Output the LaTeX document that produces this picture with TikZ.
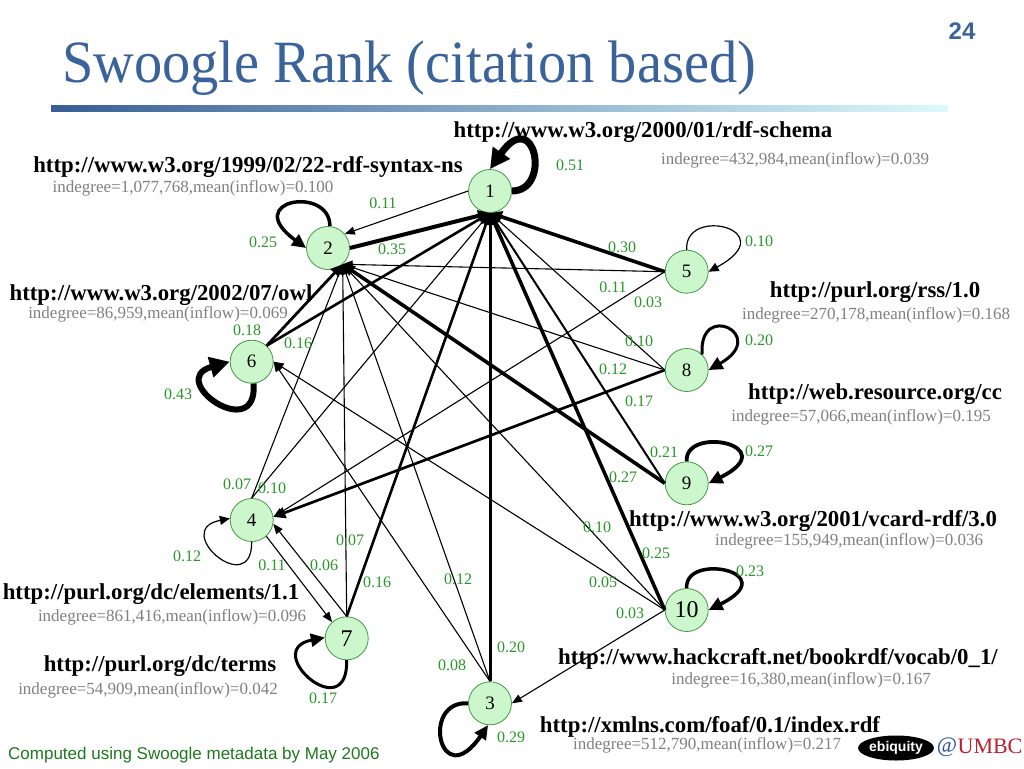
\documentclass[tikz,border=0pt]{standalone}
\usepackage{fontspec}
\setmainfont{Liberation Serif}
\setsansfont{Liberation Sans}
\usetikzlibrary{arrows.meta,shapes.geometric}
\definecolor{titleblue}{RGB}{59,99,155}
\definecolor{lblgreen}{RGB}{40,150,40}
\definecolor{indgray}{RGB}{128,128,128}
\definecolor{nodefill}{RGB}{204,246,204}
\definecolor{nodeline}{RGB}{70,150,70}
\definecolor{footgreen}{RGB}{30,120,30}
\definecolor{barleft}{RGB}{55,95,150}
\definecolor{barright}{RGB}{220,250,252}
\definecolor{umbcred}{RGB}{190,30,45}
\definecolor{atblue}{RGB}{40,80,160}
\tikzset{
  nd/.style={circle, draw=nodeline, fill=nodefill, minimum size=43pt, inner sep=0pt, line width=0.8pt, font=\fontsize{19}{19}\selectfont},
  ndbig/.style={nd, font=\fontsize{24}{24}\selectfont},
  url/.style={font=\bfseries\fontsize{22.8}{24}\selectfont, inner sep=0pt},
  ind/.style={text=indgray, font=\fontsize{17}{18}\selectfont, inner sep=0pt},
  wt/.style={text=lblgreen, font=\fontsize{16}{17}\selectfont, inner sep=0pt},
  edg/.style={-{Triangle[length=10pt,width=8pt]}, line width=1.1pt},
  edgthick/.style={-{Triangle[length=12pt,width=11pt]}},
  loopa/.style={-{Triangle[length=10pt,width=9pt]}, line width=1.2pt},
  loopb/.style={-{Triangle[length=14pt,width=13pt]}},
  loopc/.style={-{Triangle[length=20pt,width=20pt]}}
}
\begin{document}
\begin{tikzpicture}[x=1pt,y=-1pt]
\path[use as bounding box] (0,0) rectangle (1024,768);
\fill[white] (0,0) rectangle (1024,768);

% title
\node[anchor=base west, text=titleblue, inner sep=0pt] (title) at (62,82)
  {\scalebox{0.94}[1]{\fontsize{60}{60}\selectfont Swoogle Rank (citation based)}};
\node[text=titleblue, inner sep=0pt, font=\sffamily\bfseries\fontsize{24}{24}\selectfont] (pageno) at (962,31) {24};
\shade[left color=barleft, right color=barright] (51,105) rectangle (948,111);

% nodes
\node[nd] (n1) at (490,191) {1};
\node[nd] (n2) at (328,248) {2};
\node[nd] (n5) at (686.7,271.7) {5};
\node[nd] (n8) at (686.7,370) {8};
\node[nd] (n6) at (251.7,361.7) {6};
\node[nd] (n4) at (251.7,520) {4};
\node[nd] (n9) at (686.7,483.3) {9};
\node[ndbig] (n10) at (686.7,610) {10};
\node[ndbig] (n7) at (346.7,638.3) {7};
\node[nd] (n3) at (490,703.3) {3};

% edges into 1
\draw[edg, edgthick, line width=4pt] (n2.east) -- (n1.south);
\draw[edg, edgthick, line width=2.6pt] (n6.47) -- (n1.south);
\draw[edg] (n4.north) -- (n1.south);
\draw[edg, edgthick, line width=2.6pt] (n7.north) -- (n1.south);
\draw[edg, edgthick, line width=3pt] (n3.north) -- (n1.south);
\draw[edg, edgthick, line width=3.5pt] (n10.west) -- (n1.south);
\draw[edg, line width=2pt] (n9.west) -- (n1.south);
\draw[edg] (n8.west) -- (n1.south);
\draw[edg, edgthick, line width=3.6pt] (n5.west) -- (n1.south);
% edges into 2
\draw[edg] (n1.west) -- (n2.40);
\draw[edg, edgthick, line width=2.8pt] (n6.47) -- (n2.-48);
\draw[edg] (n4.north) -- (n2.-48);
\draw[edg] (n7.north) -- (n2.-48);
\draw[edg] (n3.north) -- (n2.-48);
\draw[edg] (n10.west) -- (n2.-48);
\draw[edg, edgthick, line width=3.6pt] (n9.west) -- (n2.-48);
\draw[edg] (n8.west) -- (n2.-48);
\draw[edg] (n5.west) -- (n2.-48);
% edges into 4
\draw[edg, edgthick, line width=2.7pt] (n8.west) -- (n4.8);
\draw[edg] (n5.west) -- (n4.8);
\draw[edg] (n7.north) -- (n4.-10);
% edge into 7
\draw[edg] (n4.-48) -- (n7.132);
% edges into 6
\draw[edg] (n3.north) -- (n6.east);
\draw[edg] (n10.west) -- (n6.east);
% edge into 3
\draw[edg] (n10.west) -- (n3.east);

% self loops
\draw[loopc, line width=7pt] (n1.east) .. controls (552,191) and (535,105) .. (n1.north);
\draw[loopb, line width=3.5pt] (n2.85) .. controls (330,185) and (240,200) .. (n2.west);
\draw[loopa] (n5.north) .. controls (684,205) and (785,230) .. (n5.east);
\draw[loopb, line width=3pt] (n8.45) .. controls (698,300) and (770,335) .. (n8.east);
\draw[loopb, line width=3.8pt] (n9.north) .. controls (684,425) and (785,445) .. (n9.east);
\draw[loopb, line width=3.5pt] (n10.north) .. controls (684,552) and (785,572) .. (n10.east);
\draw[loopc, line width=6pt] (n6.-85) .. controls (258,445) and (165,380) .. (n6.west);
\draw[loopa] (n4.south) .. controls (252,600) and (170,530) .. (n4.176);
\draw[loopb, line width=3pt] (n7.south) .. controls (348,728) and (260,650) .. (n7.178);
\draw[loopb, line width=4pt] (n3.west) .. controls (420,700) and (440,795) .. (n3.-95);

% URL labels
\node[url] (u1) at (643,132) {http://www.w3.org/2000/01/rdf-schema};
\node[url] (u2) at (248,167) {http://www.w3.org/1999/02/22-rdf-syntax-ns};
\node[url] (u6) at (161,295) {http://www.w3.org/2002/07/owl};
\node[url] (u5) at (875,292) {http://purl.org/rss/1.0};
\node[url] (u8) at (875,394) {http://web.resource.org/cc};
\node[url] (u9) at (813,521) {http://www.w3.org/2001/vcard-rdf/3.0};
\node[url] (u4) at (151,594) {http://purl.org/dc/elements/1.1};
\node[url] (u7) at (160,666) {http://purl.org/dc/terms};
\node[url] (u10) at (778,659) {http://www.hackcraft.net/bookrdf/vocab/0\_1/};
\node[url] (u3) at (710,727) {http://xmlns.com/foaf/0.1/index.rdf};

% indegree labels
\node[ind] (i1) at (795,160) {indegree=432,984,mean(inflow)=0.039};
\node[ind] (i2) at (193,188) {indegree=1,077,768,mean(inflow)=0.100};
\node[ind] (i6) at (158,314) {indegree=86,959,mean(inflow)=0.069};
\node[ind] (i5) at (876,315) {indegree=270,178,mean(inflow)=0.168};
\node[ind] (i8) at (861,417) {indegree=57,066,mean(inflow)=0.195};
\node[ind] (i9) at (849,541) {indegree=155,949,mean(inflow)=0.036};
\node[ind] (i4) at (172,617) {indegree=861,416,mean(inflow)=0.096};
\node[ind] (i7) at (148,690) {indegree=54,909,mean(inflow)=0.042};
\node[ind] (i10) at (801,680) {indegree=16,380,mean(inflow)=0.167};
\node[ind] (i3) at (707,745) {indegree=512,790,mean(inflow)=0.217};

% weight labels
\node[wt] (w1s) at (570,165) {0.51};
\node[wt] (w12) at (383,203) {0.11};
\node[wt] (w2s) at (263,242) {0.25};
\node[wt] (w21) at (392,249) {0.35};
\node[wt] (w51) at (622,247) {0.30};
\node[wt] (w5s) at (759,241) {0.10};
\node[wt] (w52) at (613,287) {0.11};
\node[wt] (w54) at (648,302) {0.03};
\node[wt] (w81) at (639,341) {0.10};
\node[wt] (w8s) at (759,340) {0.20};
\node[wt] (w82) at (613,369) {0.12};
\node[wt] (w84) at (639,401) {0.17};
\node[wt] (w62) at (247,330) {0.18};
\node[wt] (w61) at (298,343) {0.16};
\node[wt] (w6s) at (178,394) {0.43};
\node[wt] (w91) at (664,452) {0.21};
\node[wt] (w9s) at (759,451) {0.27};
\node[wt] (w92) at (623,477) {0.27};
\node[wt] (w42) at (237,484) {0.07};
\node[wt] (w41) at (272,488) {0.10};
\node[wt] (w4s) at (187,556) {0.12};
\node[wt] (w47) at (272,565) {0.11};
\node[wt] (w74) at (324,565) {0.06};
\node[wt] (w72) at (350,540) {0.07};
\node[wt] (w71) at (377,582) {0.16};
\node[wt] (w32) at (458,579) {0.12};
\node[wt] (w102) at (597,527) {0.10};
\node[wt] (w101) at (656,553) {0.25};
\node[wt] (w10s) at (750,571) {0.23};
\node[wt] (w106) at (603,582) {0.05};
\node[wt] (w103) at (630,613) {0.03};
\node[wt] (w31) at (511,647) {0.20};
\node[wt] (w36) at (452,665) {0.08};
\node[wt] (w7s) at (323,698) {0.17};
\node[wt] (w3s) at (511,737) {0.29};

% footer
\node[anchor=west, inner sep=0pt, text=footgreen, font=\sffamily\fontsize{17}{18}\selectfont] (foot) at (8,755) {Computed using Swoogle metadata by May 2006};
\node[ellipse, fill=black, minimum width=68pt, minimum height=25pt, inner sep=0pt, text=white, font=\sffamily\bfseries\fontsize{14}{14}\selectfont] (ebq) at (896,748) {ebiquity};
\node[inner sep=0pt, text=atblue, font=\fontsize{22}{22}\selectfont] (at) at (947,747) {@};
\node[inner sep=0pt, text=umbcred, font=\fontsize{22}{22}\selectfont] (umbc) at (990,746) {UMBC};
\end{tikzpicture}
\end{document}
